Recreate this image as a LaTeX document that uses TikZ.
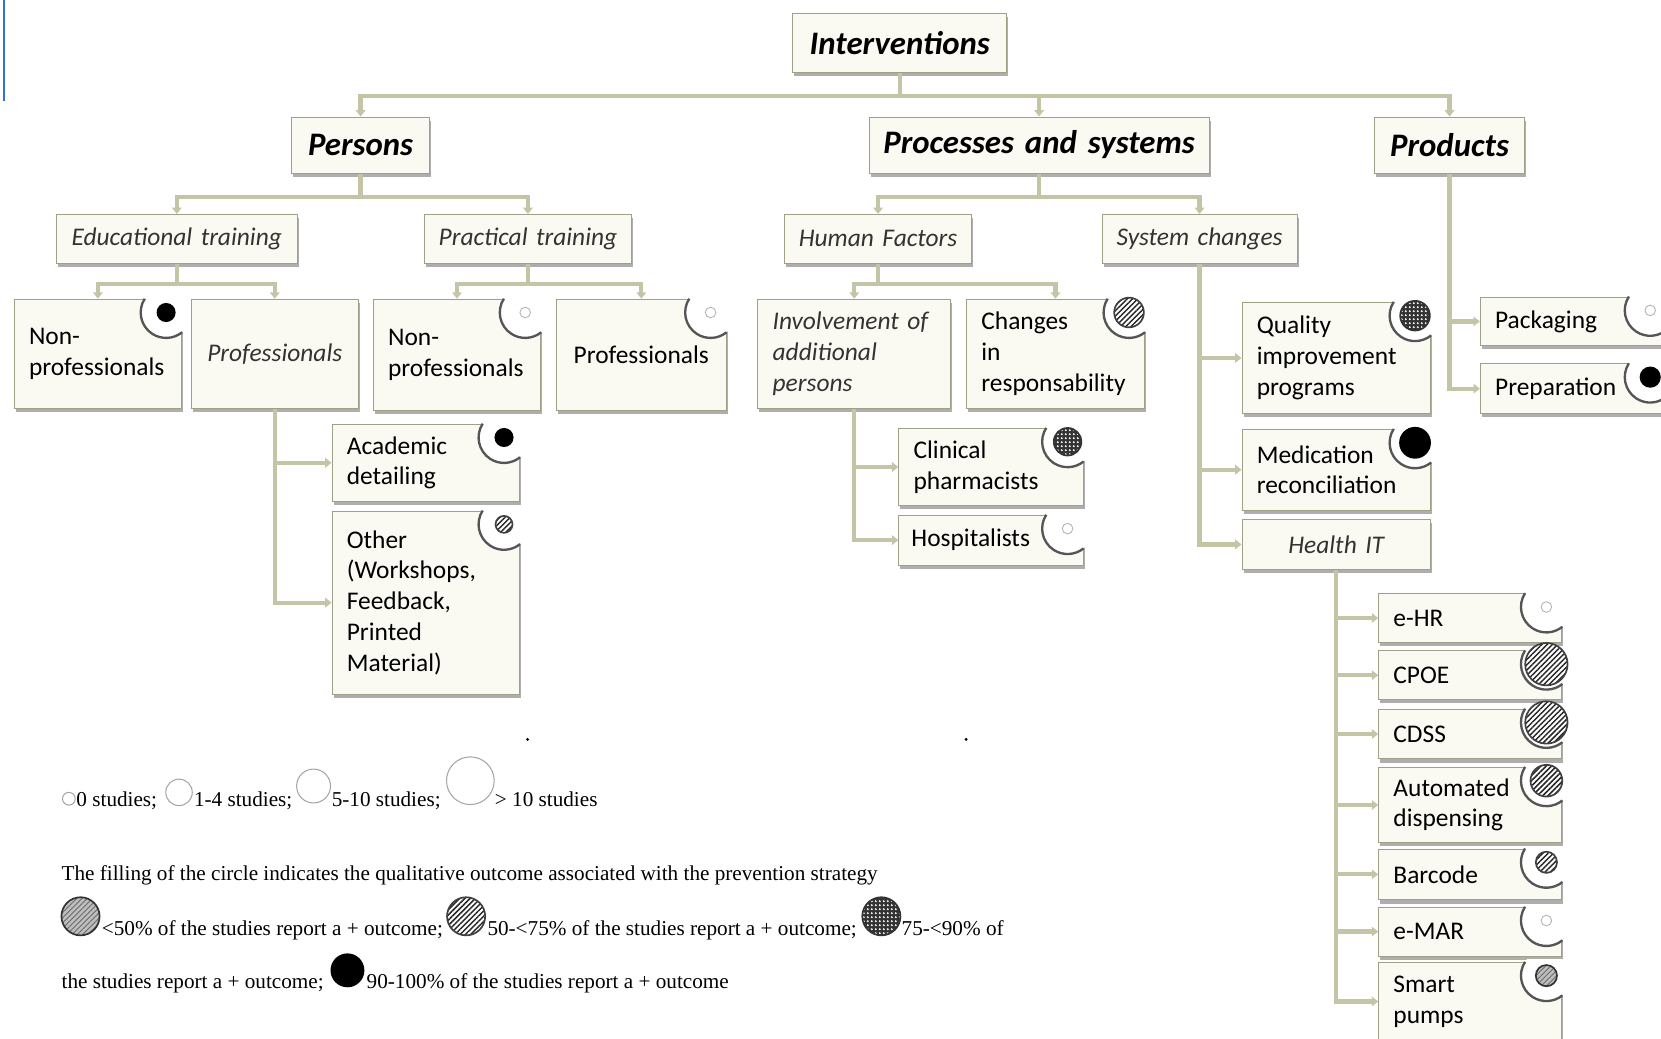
\documentclass[tikz,border=0pt]{standalone}
\usepackage{fontspec}
\setmainfont{Carlito}
\newfontfamily\legfont{Liberation Serif}
\usetikzlibrary{arrows.meta,shadows,patterns,patterns.meta}

\definecolor{boxfill}{RGB}{250,250,243}
\definecolor{boxline}{RGB}{160,160,135}
\definecolor{connline}{RGB}{196,196,166}
\definecolor{bitearc}{RGB}{85,85,85}
\definecolor{strayblue}{RGB}{45,115,215}

\tikzset{
  box/.style={draw=boxline, fill=boxfill, line width=0.8pt, inner ysep=0pt, anchor=north west,
    drop shadow={shadow xshift=1.5pt, shadow yshift=-3.5pt, fill=black!45, opacity=0.7}},
  headbox/.style={box, align=center, inner xsep=0pt, font=\fontsize{31}{37}\selectfont\bfseries\itshape},
  groupbox/.style={box, align=center, inner xsep=0pt, text=black!80, font=\fontsize{24}{29}\selectfont\itshape},
  leafbox/.style={box, align=left, inner xsep=14pt, font=\fontsize{24}{29}\selectfont},
  slanted/.style={text=black!80, font=\fontsize{24}{29}\selectfont\itshape},
  conn/.style={draw=connline, line width=4pt, -{Triangle[length=6pt, width=9pt]}},
  bite/.style={draw=bitearc, line width=2.2pt},
  mkfull/.style={fill=black},
  mknone/.style={draw=black!30, line width=0.8pt, fill=white},
  mklight/.style={preaction={fill=black!25}, pattern={Lines[angle=45, distance=3.5pt, line width=1pt]},
    pattern color=black!55, draw=black!80, line width=1.6pt},
  mkhatch/.style={preaction={fill=white}, pattern={Lines[angle=45, distance=3.5pt, line width=1.4pt]},
    pattern color=black!85, draw=black!75, line width=1.6pt},
  mkdots/.style={preaction={fill=black!80}, pattern={Dots[distance=4pt, radius=1.2pt]},
    pattern color=white, draw=black!80, line width=1.6pt},
  studycircle/.style={draw=black!35, line width=1pt},
  legend/.style={anchor=base west, inner sep=0pt, font=\legfont\fontsize{20}{24}\selectfont}
}

\begin{document}
\begin{tikzpicture}[x=1pt, y=-1pt]
  \clip (0,0) rectangle (1568,980);

  % levels 1 and 2
  \node[headbox, text width=202pt, minimum height=56pt] (int) at (748,12) {Interventions};
  \node[headbox, text width=130pt, minimum height=53pt] (per) at (275,110) {Persons};
  \node[headbox, text width=321pt, minimum height=53pt] (proc) at (820,110) {Processes and systems};
  \node[headbox, text width=142pt, minimum height=53pt] (prod) at (1297,110) {Products};

  % level 3
  \node[groupbox, text width=227pt, minimum height=46pt] (edu) at (53,202) {Educational training};
  \node[groupbox, text width=196pt, minimum height=46pt] (pra) at (400,202) {Practical training};
  \node[groupbox, text width=177pt, minimum height=46pt] (hf) at (740,202) {Human Factors};
  \node[groupbox, text width=184pt, minimum height=46pt] (sc) at (1040,202) {System changes};

  % persons
  \node[leafbox, text width=130pt, minimum height=103pt] (np1) at (13,282) {Non-\\professionals};
  \node[groupbox, text width=158pt, minimum height=103pt] (pro1) at (180,282) {Professionals};
  \node[leafbox, text width=130pt, minimum height=105pt] (np2) at (352,282) {Non-\\professionals};
  \node[leafbox, align=center, text width=132pt, minimum height=105pt] (pr2) at (525,282) {Professionals};
  \node[leafbox, text width=149pt, minimum height=73pt] (aca) at (313,400) {Academic\\detailing};
  \node[leafbox, text width=149pt, minimum height=173pt] (oth) at (313,482) {Other\\(Workshops,\\Feedback,\\Printed\\Material)};

  % processes and systems
  \node[leafbox, slanted, text width=154pt, minimum height=103pt] (inv) at (715,282) {Involvement of\\additional\\persons};
  \node[leafbox, text width=140pt, minimum height=103pt] (chg) at (912,282) {Changes\\in\\responsability};
  \node[leafbox, text width=146pt, minimum height=73pt] (cli) at (848,404) {Clinical\\pharmacists};
  \node[leafbox, inner xsep=12pt, text width=150pt, minimum height=47pt] (hos) at (848,486) {Hospitalists};
  \node[leafbox, text width=150pt, minimum height=105pt] (qual) at (1172,285) {Quality\\improvement\\programs};
  \node[leafbox, text width=150pt, minimum height=76pt] (med) at (1172,405) {Medication\\reconciliation};
  \node[groupbox, text width=178pt, minimum height=47pt] (hit) at (1172,490) {Health IT};

  % health IT
  \node[leafbox, text width=145pt, minimum height=46pt] (ehr) at (1301,560) {e-HR};
  \node[leafbox, text width=145pt, minimum height=46pt] (cpoe) at (1301,614) {CPOE};
  \node[leafbox, text width=145pt, minimum height=47pt] (cdss) at (1301,669) {CDSS};
  \node[leafbox, text width=145pt, minimum height=71pt] (aut) at (1301,724) {Automated\\dispensing};
  \node[leafbox, text width=145pt, minimum height=48pt] (bar) at (1301,801) {Barcode};
  \node[leafbox, text width=145pt, minimum height=46pt] (emar) at (1301,856) {e-MAR};
  \node[leafbox, text width=145pt, minimum height=74pt] (sma) at (1301,908) {Smart\\pumps};

  % products
  \node[leafbox, text width=147pt, minimum height=46pt] (pack) at (1397,280) {Packaging};
  \node[leafbox, text width=147pt, minimum height=47pt] (prep) at (1397,343) {Preparation};

  % connectors
  \foreach \c in {per,proc,prod} \draw[conn] (int.south) -- ++(0,22) -| (\c.north);
  \foreach \c in {edu,pra} \draw[conn] (per.south) -- ++(0,22) -| (\c.north);
  \foreach \c in {hf,sc} \draw[conn] (proc.south) -- ++(0,22) -| (\c.north);
  \foreach \c in {np1,pro1} \draw[conn] (edu.south) -- ++(0,19) -| (\c.north);
  \foreach \c in {np2,pr2} \draw[conn] (pra.south) -- ++(0,19) -| (\c.north);
  \foreach \c in {inv,chg} \draw[conn] (hf.south) -- ++(0,19) -| (\c.north);
  \foreach \c in {aca,oth} \draw[conn] (pro1.south) |- (\c.west);
  \foreach \c in {cli,hos} \draw[conn] (inv.south) |- (\c.west);
  \foreach \c in {qual,med,hit} \draw[conn] (sc.south) |- (\c.west);
  \foreach \c in {ehr,cpoe,cdss,aut,bar,emar,sma} \draw[conn] (hit.south) |- (\c.west);
  \foreach \c in {pack,prep} \draw[conn] (prod.south) |- (\c.west);

  % circles in the corners
  \foreach \n/\r/\m in {np1/9/mkfull, np2/5/mknone, pr2/5/mknone, aca/9/mkfull, oth/8/mkhatch,
      chg/14/mkhatch, cli/13/mkdots, hos/5/mknone, qual/14/mkdots, med/15/mkfull,
      pack/5/mknone, prep/10/mkfull, ehr/5/mknone, cpoe/20/mkhatch, cdss/20/mkhatch,
      aut/15/mkhatch, bar/10/mkhatch, emar/5/mknone, sma/10/mklight}{
    \begin{scope}
      \clip ([shift={(-1,-2)}]\n.north west) rectangle ([shift={(4,6)}]\n.south east);
      \fill[white] ([shift={(-15,13)}]\n.north east) circle[radius=24pt];
    \end{scope}
    \draw[bite] ([shift={(-15,13)}]\n.north east) ++(147:24pt) arc[start angle=147, end angle=309, radius=24pt];
    \path[\m] ([shift={(-15,13)}]\n.north east) circle[radius=\r pt];
  }

  % stray marks
  \draw[strayblue, line width=2pt] (4,0) -- (4,95);
  \fill (498,698) circle[radius=1.5pt];
  \fill (912,698) circle[radius=1.5pt];

  % legend
  \draw[studycircle] (65,754) circle[radius=6pt];
  \draw[studycircle] (169,748) circle[radius=12.5pt];
  \draw[studycircle] (296,742) circle[radius=16pt];
  \draw[studycircle] (444,737) circle[radius=22.5pt];
  \node[legend] (s0) at (72,761) {0 studies;};
  \node[legend] (s1) at (183,761) {1-4 studies;};
  \node[legend] (s2) at (313,761) {5-10 studies;};
  \node[legend] (s3) at (467,761) {> 10 studies};
  \node[legend] (fill) at (58,831) {The filling of the circle indicates the qualitative outcome associated with the prevention strategy};
  \path[mklight] (76,865) circle[radius=18pt];
  \path[mkhatch] (440,865) circle[radius=18pt];
  \path[mkdots] (832,865) circle[radius=18pt];
  \path[mkfull] (328,916) circle[radius=16pt];
  \node[legend] (o1) at (96,883) {<50\% of the studies report a + outcome;};
  \node[legend] (o2) at (460,883) {50-<75\% of the studies report a + outcome;};
  \node[legend] (o3) at (851,883) {75-<90\% of};
  \node[legend] (o3b) at (58,933) {the studies report a + outcome;};
  \node[legend] (o4) at (346,933) {90-100\% of the studies report a + outcome};
\end{tikzpicture}
\end{document}
